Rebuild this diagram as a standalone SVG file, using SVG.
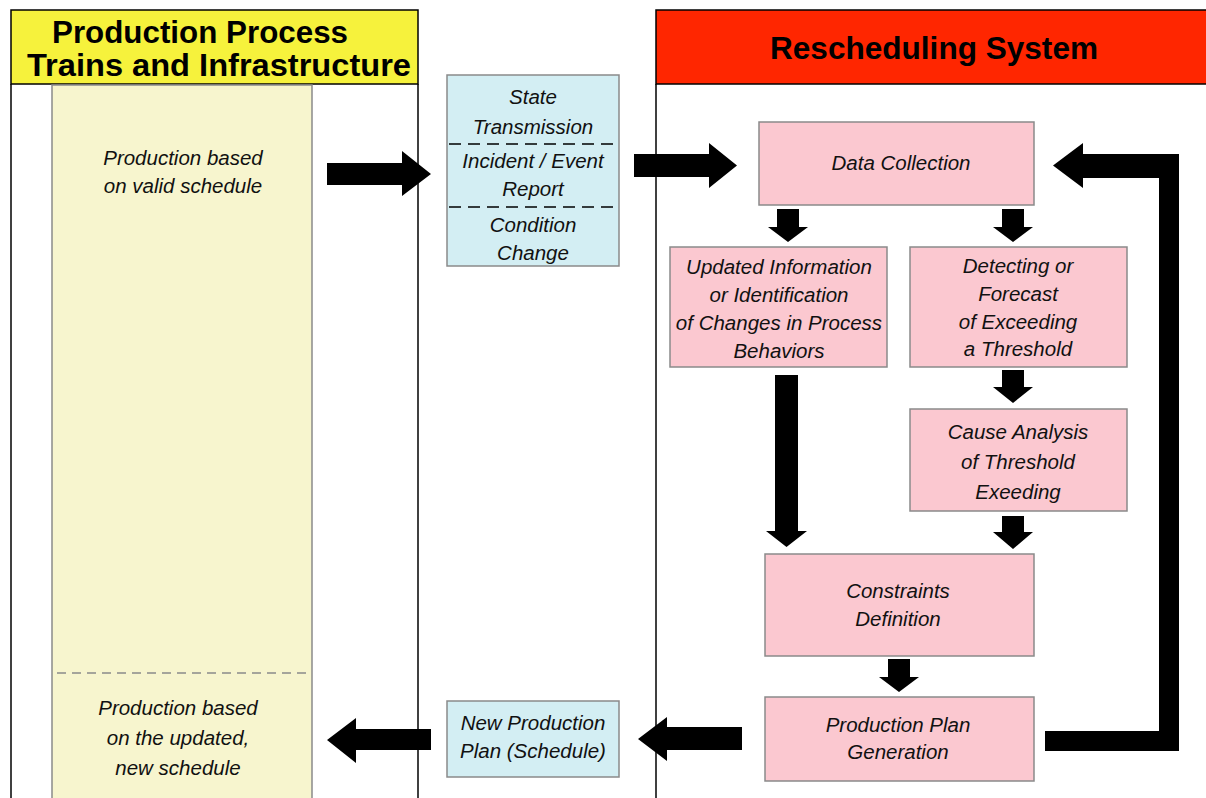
<svg xmlns="http://www.w3.org/2000/svg" width="1206" height="798" viewBox="0 0 1206 798">
<defs>
<style>
.t{font-family:"Liberation Sans",Arial,sans-serif;font-style:italic;font-size:20.5px;fill:#111;text-anchor:middle}
.h{font-family:"Liberation Sans",Arial,sans-serif;font-weight:bold;font-size:31px;fill:#000;text-anchor:middle}
.pink{fill:#FBC8D0;stroke:#8a8a8a;stroke-width:1.5}
.blue{fill:#D3EEF3;stroke:#8a8a8a;stroke-width:1.5}
.ln{stroke:#000;stroke-width:1.5;fill:none}
.ar{fill:#000}
.dash{stroke:#000;stroke-width:1.3;stroke-dasharray:12,7}
</style>
</defs>
<rect width="1206" height="798" fill="#fff"/>

<g id="panel-left">
<rect x="11" y="10" width="407" height="74" fill="#F6F23C" stroke="#000" stroke-width="1.5"/>
<line class="ln" x1="11" y1="84" x2="11" y2="798"/>
<line class="ln" x1="418" y1="84" x2="418" y2="798"/>
<text class="h" x="200" y="43" textLength="296" lengthAdjust="spacingAndGlyphs">Production Process</text>
<text class="h" x="219" y="76" textLength="384" lengthAdjust="spacingAndGlyphs">Trains and Infrastructure</text>
</g>

<g id="production-column">
<rect x="52" y="85" width="260" height="720" fill="#F7F5CE" stroke="#8a8a8a" stroke-width="1.5"/>
<line x1="57" y1="673" x2="311" y2="673" stroke="#8a8a8a" stroke-width="1.5" stroke-dasharray="9,6"/>
<text class="t" x="183" y="165">Production based</text>
<text class="t" x="183" y="193">on valid schedule</text>
<text class="t" x="178" y="715">Production based</text>
<text class="t" x="178" y="745">on the updated,</text>
<text class="t" x="178" y="775">new schedule</text>
</g>

<g id="panel-right">
<rect x="656" y="10" width="560" height="74" fill="#FF2600" stroke="#000" stroke-width="1.5"/>
<line class="ln" x1="656" y1="84" x2="656" y2="798"/>
<text class="h" x="934" y="59" textLength="328" lengthAdjust="spacingAndGlyphs">Rescheduling System</text>
</g>

<g id="state-box">
<rect class="blue" x="447" y="75" width="172" height="191"/>
<line class="dash" x1="449" y1="144" x2="617" y2="144"/>
<line class="dash" x1="449" y1="207" x2="617" y2="207"/>
<text class="t" x="533" y="104">State</text>
<text class="t" x="533" y="134">Transmission</text>
<text class="t" x="533" y="168">Incident / Event</text>
<text class="t" x="533" y="196">Report</text>
<text class="t" x="533" y="232">Condition</text>
<text class="t" x="533" y="260">Change</text>
</g>

<g id="new-plan">
<rect class="blue" x="447" y="701" width="172" height="76"/>
<text class="t" x="533" y="730">New Production</text>
<text class="t" x="533" y="758">Plan (Schedule)</text>
</g>

<g id="data-collection">
<rect class="pink" x="759" y="122" width="275" height="83"/>
<text class="t" x="901" y="170">Data Collection</text>
</g>

<g id="updated-info">
<rect class="pink" x="670" y="247" width="217" height="120"/>
<text class="t" x="779" y="274">Updated Information</text>
<text class="t" x="779" y="302">or Identification</text>
<text class="t" x="779" y="330">of Changes in Process</text>
<text class="t" x="779" y="358">Behaviors</text>
</g>

<g id="detecting">
<rect class="pink" x="910" y="247" width="217" height="120"/>
<text class="t" x="1018" y="273">Detecting or</text>
<text class="t" x="1018" y="301">Forecast</text>
<text class="t" x="1018" y="329">of Exceeding</text>
<text class="t" x="1018" y="356">a Threshold</text>
</g>

<g id="cause-analysis">
<rect class="pink" x="910" y="409" width="217" height="102"/>
<text class="t" x="1018" y="439">Cause Analysis</text>
<text class="t" x="1018" y="469">of Threshold</text>
<text class="t" x="1018" y="499">Exeeding</text>
</g>

<g id="constraints">
<rect class="pink" x="765" y="554" width="269" height="102"/>
<text class="t" x="898" y="598">Constraints</text>
<text class="t" x="898" y="626">Definition</text>
</g>

<g id="plan-generation">
<rect class="pink" x="765" y="697" width="269" height="84"/>
<text class="t" x="898" y="732">Production Plan</text>
<text class="t" x="898" y="759">Generation</text>
</g>

<g id="connectors">
<polygon class="ar" points="327,163 402,163 402,151 431,174 402,196 402,185 327,185"/>
<polygon class="ar" points="634,154 709,154 709,143 737,165.5 709,188 709,177 634,177"/>
<polygon class="ar" points="777,209 799,209 799,227 808,227 788,242 768,227 777,227"/>
<polygon class="ar" points="1002,209 1024,209 1024,227 1033,227 1013,242 993,227 1002,227"/>
<polygon class="ar" points="775,375 798,375 798,531 807,531 786.5,547 766,531 775,531"/>
<polygon class="ar" points="1002,370 1024,370 1024,387 1033,387 1013,403 993,387 1002,387"/>
<polygon class="ar" points="1002,516 1024,516 1024,532 1033,532 1013,549 993,532 1002,532"/>
<polygon class="ar" points="888,659 910,659 910,677 919,677 899,692 879,677 888,677"/>
<polygon class="ar" points="742,727 667,727 667,717 638,739 667,761 667,750 742,750"/>
<polygon class="ar" points="431,729 356,729 356,718 327,740 356,763 356,750 431,750"/>
<polygon class="ar" points="1045,731 1159,731 1159,178 1083,178 1083,188 1053,165.5 1083,143 1083,154 1179,154 1179,751 1045,751"/>
</g>
</svg>
